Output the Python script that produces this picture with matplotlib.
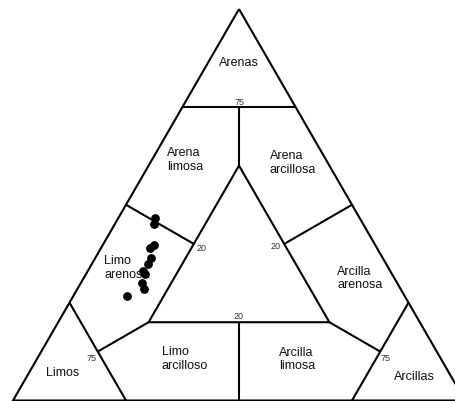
import numpy as np
import matplotlib
matplotlib.use("Agg")
import matplotlib.pyplot as plt

plt.rcParams["font.family"] = ["Liberation Sans", "DejaVu Sans"]

# muestras (% arena, % arcilla); limo = 100 - arena - arcilla
arena = [46.6, 45.1, 39.8, 39.0, 36.3, 34.9, 33.2, 32.3, 29.9, 28.5, 26.6]
arcilla = [8.1, 8.7, 11.4, 10.7, 12.3, 12.4, 12.1, 13.0, 13.5, 14.8, 12.0]

# limites de clases (arena, arcilla) en %
limites = [
    [(100, 0), (0, 0), (0, 100), (100, 0)],      # triangulo exterior
    [(75, 0), (75, 25)],                         # arenas
    [(75, 12.5), (60, 20)],                      # arcilla = limo (arriba)
    [(60, 20), (20, 20), (20, 60), (60, 20)],    # triangulo central
    [(50, 0), (40, 20)],                         # arena = limo
    [(50, 50), (40, 40)],                        # arena = arcilla
    [(20, 40), (0, 50)],                         # arcilla = limo (abajo)
    [(20, 20), (12.5, 12.5)],                    # arena = arcilla
    [(20, 60), (12.5, 75)],                      # arena = limo
    [(25, 0), (0, 25)],                          # limos
    [(25, 75), (0, 75)],                         # arcillas
]

clases = ["Arenas", "Arena\nlimosa", "Arena\narcillosa", "Limo\narenosa",
          "Arcilla\narenosa", "Limo\narcilloso", "Arcilla\nlimosa",
          "Limos", "Arcillas"]
pos_clases = [(86.5, 6.8), (61.7, 3.2), (60.9, 26.4), (34.1, 3.1),
              (31.4, 56.0), (10.9, 27.5), (10.7, 53.5), (7.2, 3.7),
              (6.3, 81.1)]

marcas = ["75", "75", "75", "20", "20", "20"]
pos_marcas = [(76.3, 11.9), (10.9, 12.0), (10.9, 76.9),
              (39.2, 22.2), (39.7, 38.3), (21.6, 39.2)]


def tern(s, c):
    s = np.asarray(s) / 100.0
    c = np.asarray(c) / 100.0
    return c + s / 2.0, s * np.sqrt(3) / 2.0


fig = plt.figure(figsize=(4.56, 4.02), dpi=100)
ax = fig.add_axes([0, 0, 1, 1])
ax.set_xlim(-13 / 452, 443 / 452)
ax.set_ylim(-0.5 / 452, 401.5 / 452)
ax.axis("off")

for lim in limites:
    s, c = zip(*lim)
    x, y = tern(s, c)
    ax.plot(x, y, color="black", lw=1.5, solid_joinstyle="miter",
            solid_capstyle="butt")

for txt, (s, c) in zip(clases, pos_clases):
    x, y = tern(s, c)
    ha = "center" if txt == "Arenas" else "left"
    ax.text(x, y, txt, fontsize=9, ha=ha, va="center", color="#111111",
            linespacing=1.15)

for txt, (s, c) in zip(marcas, pos_marcas):
    x, y = tern(s, c)
    ax.text(x, y, txt, fontsize=6.5, ha="center", va="center",
            color="#333333")

x, y = tern(arena, arcilla)
ax.plot(x, y, "o", color="black", ms=5.3, zorder=5)

fig.savefig("out.png", dpi=100)
